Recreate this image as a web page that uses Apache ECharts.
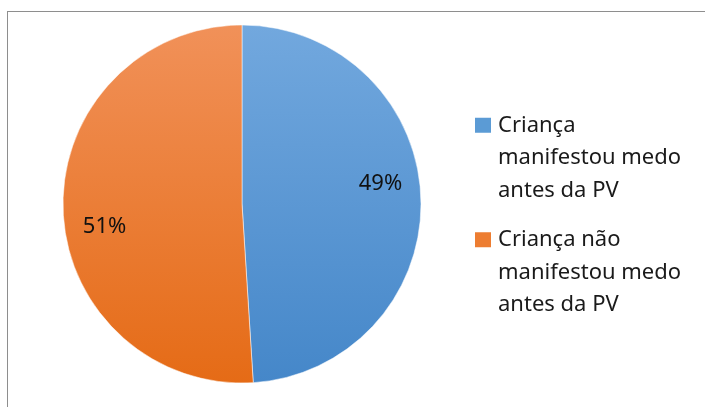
<!DOCTYPE html>
<html>
<head>
<meta charset="utf-8">
<script src="https://cdn.jsdelivr.net/npm/echarts@6/dist/echarts.min.js"></script>
<style>
html,body{margin:0;padding:0;background:#fff;}
#frame{position:absolute;left:7px;top:11px;width:698px;height:396px;border-top:1px solid #8e8e8e;border-left:1px solid #8e8e8e;}
#chart{position:absolute;left:0;top:0;width:705px;height:407px;}
</style>
</head>
<body>
<div id="frame"></div>
<div id="chart"></div>
<script>
const categories = ['Criança manifestou medo antes da PV', 'Criança não manifestou medo antes da PV'];
const values = [49, 51];
const legendLines = [
  ['Criança', 'manifestou medo', 'antes da PV'],
  ['Criança não', 'manifestou medo', 'antes da PV']
];

const FONT = 'Noto Sans';
const sliceColors = [
  new echarts.graphic.LinearGradient(0, 0, 0, 1, [{offset: 0, color: '#72a8de'}, {offset: 1, color: '#4587c9'}]),
  new echarts.graphic.LinearGradient(0, 0, 0, 1, [{offset: 0, color: '#f19159'}, {offset: 1, color: '#e56b16'}])
];
const squareColors = ['#5b9bd5', '#ed7d31'];
const labelOffsets = [[46, -17], [-45, 20]];

const chart = echarts.init(document.getElementById('chart'), null, {renderer: 'canvas'});

const data = categories.map((name, i) => ({
  name: name,
  value: values[i],
  itemStyle: {color: sliceColors[i]},
  label: {offset: labelOffsets[i]}
}));

const rich = {
  t: {fontFamily: FONT, fontSize: 22, color: '#1a1a1a', lineHeight: 32.5},
  gap: {width: 7, height: 15},
  ind: {width: 23, height: 15}
};
squareColors.forEach((c, i) => {
  rich['sq' + i] = {width: 16, height: 15, backgroundColor: c};
});

chart.setOption({
  animation: false,
  legend: {
    orient: 'vertical',
    left: 470,
    top: 109,
    padding: 0,
    itemGap: 17,
    itemWidth: 0,
    itemHeight: 0,
    icon: 'none',
    selectedMode: false,
    data: categories,
    formatter: function (name) {
      const i = categories.indexOf(name);
      return legendLines[i].map((line, k) =>
        (k === 0 ? '{sq' + i + '|}{gap|}' : '{ind|}') + '{t|' + line + '}'
      ).join('\n');
    },
    textStyle: {rich: rich, lineHeight: 32.5}
  },
  series: [{
    type: 'pie',
    center: [242, 204],
    radius: 179,
    startAngle: 90,
    clockwise: true,
    avoidLabelOverlap: false,
    itemStyle: {borderColor: '#ffffff', borderWidth: 0.5},
    label: {
      show: true,
      position: 'inside',
      formatter: p => Math.round(p.percent) + '%',
      fontFamily: FONT,
      fontSize: 22,
      color: '#111'
    },
    labelLine: {show: false},
    emphasis: {disabled: true},
    data: data
  }]
});
</script>
</body>
</html>
